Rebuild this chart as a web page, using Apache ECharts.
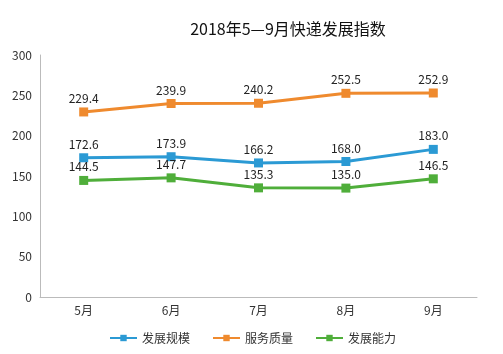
<!DOCTYPE html>
<html>
<head>
<meta charset="utf-8">
<script src="https://cdn.jsdelivr.net/npm/echarts@6/dist/echarts.min.js"></script>
<style>html,body{margin:0;padding:0;background:#fff}#main{width:503px;height:354px}</style>
</head>
<body>
<div id="main"></div>
<script>
var months = ['5月', '6月', '7月', '8月', '9月'];
var scale = [172.6, 173.9, 166.2, 168.0, 183.0];
var service = [229.4, 239.9, 240.2, 252.5, 252.9];
var capacity = [144.5, 147.7, 135.3, 135.0, 146.5];

var chartDom = document.getElementById('main');
var myChart = echarts.init(chartDom, null, { renderer: 'canvas' });

function line(name, data, color) {
    return {
        name: name,
        type: 'line',
        data: data,
        symbol: 'rect',
        symbolSize: 9,
        lineStyle: { width: 3, color: color },
        itemStyle: { color: color },
        label: {
            show: true,
            position: 'top',
            distance: 3,
            color: '#222',
            fontSize: 12,
            formatter: function (p) { return p.value.toFixed(1); }
        }
    };
}

var option = {
    textStyle: { fontFamily: 'Noto Sans CJK SC, sans-serif' },
    title: {
        text: '2018年5—9月快递发展指数',
        left: 283,
        textAlign: 'center',
        top: 16,
        textStyle: { fontSize: 16, fontWeight: 'normal', color: '#111' }
    },
    legend: {
        bottom: 5,
        left: 104,
        itemGap: 22,
        itemWidth: 27,
        itemHeight: 8,
        textStyle: { fontSize: 12, color: '#333' },
        data: ['发展规模', '服务质量', '发展能力']
    },
    grid: { left: 40, right: 26, top: 55, bottom: 57 },
    xAxis: {
        type: 'category',
        data: months,
        axisLine: { lineStyle: { color: '#bbb' } },
        axisTick: { show: false },
        axisLabel: { color: '#333', fontSize: 12, margin: 7 }
    },
    yAxis: {
        type: 'value',
        min: 0,
        max: 300,
        interval: 50,
        axisLine: { show: true, lineStyle: { color: '#bbb' } },
        axisTick: { show: false },
        splitLine: { show: false },
        axisLabel: { color: '#333', fontSize: 12, margin: 8 }
    },
    series: [
        line('发展规模', scale, '#2b9ad4'),
        line('服务质量', service, '#ef8a2e'),
        line('发展能力', capacity, '#4fae3a')
    ]
};
option && myChart.setOption(option);
</script>
</body>
</html>
